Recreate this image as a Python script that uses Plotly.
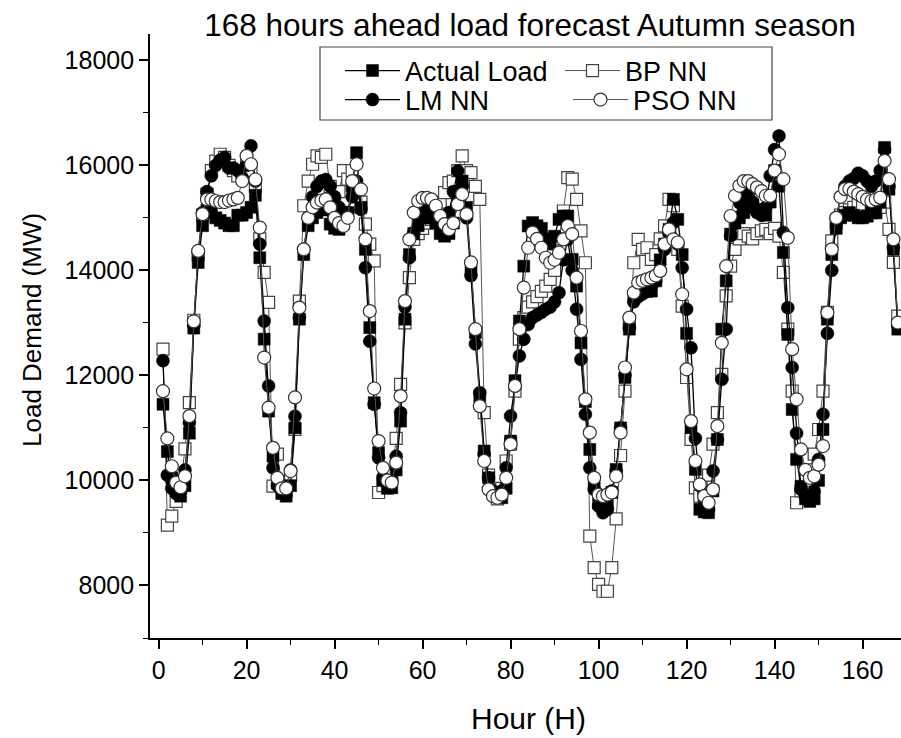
import plotly.graph_objects as go

hours = list(range(1, 169))

actual_load = [
    11450, 10550, 10050, 9800, 9700, 9900, 10900, 12900, 14150, 14850, 15150, 15100,
    15000, 14950, 14900, 14850, 14850, 15050, 15050, 15100, 15200, 15430, 14240, 12690,
    11320, 10460, 9950, 9750, 9700, 9900, 11000, 13070, 14300, 14850, 15000, 15100,
    15200, 15150, 14880, 14800, 14780, 14900, 15100, 15600, 16240, 15200, 14400, 12910,
    11480, 10530, 10000, 9850, 9860, 10200, 11130, 13070, 14300, 14700, 14850, 15000,
    15050, 15000, 14900, 14700, 14650, 14700, 14900, 15300, 15700, 15200, 14020, 12815,
    11600, 10560, 10050, 9750, 9700, 9670, 9850, 10750, 11900, 13035, 14080, 14845,
    14910, 14850, 14800, 14600, 14500, 14650, 14970, 15035, 15035, 14210, 13700, 12620,
    11500, 10590, 9960, 9575, 9500, 9550, 9770, 10210, 11000, 11960, 12880, 13510,
    13600, 13650, 13600, 13605, 13800, 14200, 14500, 14780, 15350, 14970, 14300, 12800,
    11005, 10210, 9450, 9400, 9385, 9800, 10780, 12880, 13800, 14690, 14900, 15000,
    15100, 15200, 15250, 15160, 15130, 15050, 15300, 15900, 15600, 14340, 12780, 11350,
    10400, 9890, 9650, 9600, 9650, 10000, 10970, 13070, 14300, 14800, 15000, 15050,
    15100, 15050, 15000, 15000, 15035, 15100, 15100, 15300, 16340, 15545, 14400, 12880,
]

lm_nn = [
    12280, 10100, 9850, 9750, 9800, 10200, 11100, 12950, 14350, 15100, 15500, 15800,
    16000, 16100, 16150, 15950, 15950, 15900, 15765, 16000, 16370, 15700, 14500, 13035,
    11800, 10240, 9900, 9800, 9850, 10200, 11220, 13100, 14400, 15000, 15400, 15600,
    15700, 15730, 15600, 15400, 15200, 15000, 15100, 15400, 15700, 15160, 14050, 12650,
    11450, 10430, 10050, 9950, 10000, 10460, 11290, 13300, 14240, 14720, 15000, 15150,
    15200, 15150, 15000, 14900, 14900, 15100, 15500, 15890, 15600, 15000, 13900, 12600,
    11670, 10500, 10050, 9800, 9750, 9800, 10240, 11225, 11800, 12370, 12690, 12970,
    13100, 13150, 13200, 13260, 13300, 13400, 13575, 14200, 14590, 14000, 13260, 12305,
    11260, 10240, 9830, 9510, 9385, 9450, 9800, 10180, 11000, 12000, 12900, 13400,
    13500, 13550, 13600, 13700, 13800, 14000, 14400, 14700, 14910, 14500, 14050, 13260,
    12525, 10800, 9900, 9500, 9450, 10180, 10780, 11925, 12880, 14660, 15000, 15290,
    15450, 15450, 15300, 15100, 15050, 15200, 15800, 16300, 16560, 14720, 13290, 12150,
    10900, 9830, 9700, 9700, 9800, 10400, 11260, 12800, 14000, 15000, 15400, 15600,
    15700, 15750, 15850, 15800, 15700, 15600, 15700, 15900, 16300, 15600, 14430, 12950,
]

bp_nn = [
    12500, 9150, 9320, 9600, 9900, 10600, 11480, 13050, 14300, 15050, 15450, 15900,
    16080, 16210, 16150, 16000, 15900, 15800, 15900, 16100, 15900, 15600, 14600, 13960,
    13390, 9890, 10500, 9900, 9800, 10100, 10970, 13415, 15230, 15700, 16020, 16180,
    16150, 16210, 15600, 15400, 15500, 15900, 15735, 15900, 15500, 15300, 14880, 14500,
    14180, 9770, 9900, 10000, 10100, 10800, 11830, 13000, 13860, 14590, 14700, 14800,
    14900, 14970, 15100, 15300, 15480, 15670, 15700, 15900, 16180, 15900, 15860, 15600,
    15350, 11290, 10100, 9800, 9650, 9850, 10370, 10690, 11700, 12690, 13100, 13300,
    13400, 13500, 13600, 13700, 13830, 14000, 14600, 15130, 15765, 15735, 15350, 14750,
    14145, 8940, 8340, 8020, 7890, 7890, 8340, 9270, 10475, 11700, 13000, 14145,
    14590, 14400, 14430, 14210, 14300, 14600, 14845, 15350, 15230, 14400, 13320, 11960,
    10780, 9860, 9700, 9600, 10100, 10690, 11290, 12020, 13515, 14080, 14400, 14600,
    14700, 14650, 14600, 14700, 14750, 14780, 14700, 14800, 14650, 13960, 12880, 11700,
    9575, 9800, 10000, 10200, 10500, 10970, 11700, 13200, 14560, 14900, 15050, 15100,
    15150, 15200, 15250, 15200, 15035, 15100, 15100, 15200, 15300, 14780, 14150, 13130,
]

pso_nn = [
    11700, 10800, 10270, 9960, 9870, 10080, 11225, 13030, 14370, 15070, 15350, 15350,
    15320, 15300, 15300, 15330, 15350, 15380, 15700, 16180, 16020, 15730, 14815, 12340,
    11385, 10620, 10050, 9850, 9850, 10180, 11580, 13290, 14400, 15000, 15200, 15290,
    15330, 15350, 15200, 15000, 14900, 14845, 15000, 15700, 16020, 15540, 14590, 13225,
    11750, 10750, 10240, 10000, 9960, 10340, 11605, 13415, 14590, 15100, 15320, 15380,
    15380, 15350, 15230, 15035, 14880, 14780, 14900, 15260, 15450, 15070, 14150, 12880,
    11415, 10370, 9830, 9700, 9670, 9730, 10050, 10690, 11800, 12880, 13670, 14430,
    14720, 14600, 14430, 14240, 14145, 14200, 14335, 14590, 14845, 14690, 13860, 12845,
    11545, 10910, 10050, 9730, 9700, 9730, 9770, 10080, 10910, 12150, 13100, 13575,
    13765, 13800, 13830, 13860, 13900, 13990, 14500, 14780, 14590, 14530, 13545, 12115,
    11130, 10370, 9925, 9700, 9575, 9830, 11035, 12620, 14080, 15035, 15420, 15610,
    15700, 15700, 15640, 15580, 15510, 15420, 15420, 15900, 16210, 15735, 14620, 12500,
    11545, 10590, 10200, 10050, 10080, 10300, 10655, 13195, 14400, 15000, 15400, 15545,
    15550, 15500, 15450, 15400, 15350, 15320, 15350, 15385, 16085, 15735, 14590, 13005,
]

x_ticks = [0, 20, 40, 60, 80, 100, 120, 140, 160]
y_ticks = [8000, 10000, 12000, 14000, 16000, 18000]

FONT = "Liberation Sans, Arial, sans-serif"
W, H = 901, 738
ML, MR, MT, MB = 150, 0, 34, 100
PW, PH = W - ML - MR, H - MT - MB


def xp(px):
    return (px - ML) / PW


def yp(py):
    return 1 - (py - MT) / PH


fig = go.Figure()

# draw order: BP, Actual, LM, PSO ; legend rows: (Actual, BP) and (LM, PSO)
fig.add_trace(go.Scatter(
    x=hours, y=bp_nn, name="BP NN", mode="lines+markers", legend="legend", legendrank=2,
    line=dict(color="#555555", width=1),
    marker=dict(symbol="square", size=12, color="white",
                line=dict(color="#444444", width=1.2)),
))
fig.add_trace(go.Scatter(
    x=hours, y=actual_load, name="Actual Load", mode="lines+markers", legend="legend",
    legendrank=1,
    line=dict(color="black", width=1.3),
    marker=dict(symbol="square", size=12, color="black",
                line=dict(color="black", width=0.5)),
))
fig.add_trace(go.Scatter(
    x=hours, y=lm_nn, name="LM NN", mode="lines+markers", legend="legend2", legendrank=3,
    line=dict(color="black", width=1.3),
    marker=dict(symbol="circle", size=13, color="black",
                line=dict(color="black", width=0.5)),
))
fig.add_trace(go.Scatter(
    x=hours, y=pso_nn, name="PSO NN", mode="lines+markers", legend="legend2", legendrank=4,
    line=dict(color="#555555", width=1),
    marker=dict(symbol="circle", size=13, color="white",
                line=dict(color="#333333", width=1.2)),
))

axis_common = dict(
    showgrid=False, zeroline=False, showline=True, linecolor="black", linewidth=1.7,
    ticks="outside", ticklen=9, tickwidth=1.6, tickcolor="black",
    tickfont=dict(family=FONT, size=25, color="black"),
    mirror=False,
)

fig.update_xaxes(
    range=[-1.95, 168.73], tickmode="array", tickvals=x_ticks,
    ticktext=[str(v) for v in x_ticks],
    minor=dict(ticks="outside", ticklen=5, tickwidth=1.4, tickcolor="black", dtick=10, tick0=0),
    **axis_common,
)
fig.update_yaxes(
    range=[7000, 18500], tickmode="array", tickvals=y_ticks,
    ticktext=[str(v) for v in y_ticks],
    minor=dict(ticks="outside", ticklen=5, tickwidth=1.4, tickcolor="black", dtick=1000, tick0=0),
    **axis_common,
)

# legend frame
fig.add_shape(type="rect", xref="paper", yref="paper",
              x0=xp(320), x1=xp(772), y0=yp(120), y1=yp(47),
              line=dict(color="#444444", width=1.2), fillcolor="white", layer="below")

fig.add_annotation(text="Hour (H)", xref="paper", yref="paper", x=xp(528), y=yp(718),
                   showarrow=False, xanchor="center", yanchor="middle",
                   font=dict(family=FONT, size=30, color="black"))
fig.add_annotation(text="Load Demand (MW)", xref="paper", yref="paper", x=xp(32), y=yp(330),
                   showarrow=False, xanchor="center", yanchor="middle", textangle=-90,
                   font=dict(family=FONT, size=26, color="black"))

leg_common = dict(orientation="h", xanchor="left", yanchor="middle",
                  bgcolor="rgba(0,0,0,0)", borderwidth=0, itemwidth=55,
                  entrywidthmode="pixels",
                  font=dict(family=FONT, size=27, color="black"), tracegroupgap=0)

fig.update_layout(
    width=W, height=H,
    margin=dict(l=ML, r=MR, t=MT, b=MB, pad=0),
    paper_bgcolor="white", plot_bgcolor="white",
    title=dict(text="168 hours ahead load forecast Autumn season",
               x=xp(530), xanchor="center", xref="paper",
               y=1 - 25 / H, yref="container", yanchor="middle",
               font=dict(family=FONT, size=31.5, color="black")),
    legend=dict(x=xp(340), y=yp(71), entrywidth=150, **leg_common),
    legend2=dict(x=xp(340), y=yp(100), entrywidth=158, **leg_common),
    showlegend=True,
)

fig.write_html("out.html")
